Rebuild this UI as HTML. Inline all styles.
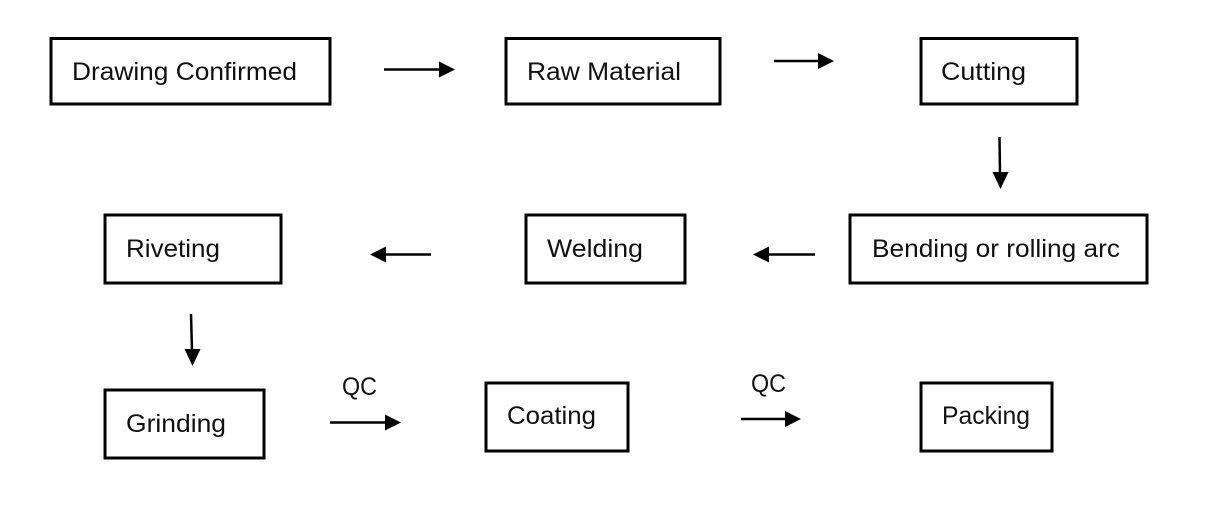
<!DOCTYPE html>
<html>
<head>
<meta charset="utf-8">
<style>
html,body{margin:0;padding:0;background:#fff;width:1218px;height:509px;overflow:hidden}
svg{display:block}
text{font-family:"Liberation Sans",sans-serif;font-size:25px;fill:#111}
rect{fill:#fff;stroke:#000;stroke-width:3}
line{stroke:#000;stroke-width:2.5}
polygon{fill:#000}
</style>
</head>
<body>
<svg width="1218" height="509" viewBox="0 0 1218 509" xmlns="http://www.w3.org/2000/svg">
<rect x="51" y="38.5" width="279" height="65.5"/>
<rect x="506" y="38.5" width="214" height="65.5"/>
<rect x="921" y="38.5" width="156" height="65.5"/>
<rect x="850" y="215" width="297" height="68"/>
<rect x="526" y="215" width="159" height="68"/>
<rect x="105" y="215" width="176" height="68"/>
<rect x="105" y="390" width="159" height="68"/>
<rect x="486" y="383" width="142" height="68"/>
<rect x="921" y="383" width="131" height="68"/>

<text x="72" y="80" textLength="225" lengthAdjust="spacingAndGlyphs">Drawing Confirmed</text>
<text x="527" y="80" textLength="154" lengthAdjust="spacingAndGlyphs">Raw Material</text>
<text x="941" y="80" textLength="85" lengthAdjust="spacingAndGlyphs">Cutting</text>
<text x="872" y="257" textLength="248" lengthAdjust="spacingAndGlyphs">Bending or rolling arc</text>
<text x="547" y="257" textLength="96" lengthAdjust="spacingAndGlyphs">Welding</text>
<text x="126" y="257" textLength="94" lengthAdjust="spacingAndGlyphs">Riveting</text>
<text x="126" y="432" textLength="100" lengthAdjust="spacingAndGlyphs">Grinding</text>
<text x="507" y="424" textLength="89" lengthAdjust="spacingAndGlyphs">Coating</text>
<text x="942" y="424" textLength="88" lengthAdjust="spacingAndGlyphs">Packing</text>
<text x="342" y="395" textLength="35" lengthAdjust="spacingAndGlyphs">QC</text>
<text x="751" y="392" textLength="35" lengthAdjust="spacingAndGlyphs">QC</text>

<line x1="384" y1="69.5" x2="442" y2="69.5"/><polygon points="455,69.5 439,61.5 439,77.5"/>
<line x1="774" y1="61" x2="820" y2="61"/><polygon points="834,61 818,53 818,69"/>
<line x1="999.5" y1="137" x2="1000" y2="174"/><polygon points="1000.5,189 992.5,172 1008.5,172"/>
<line x1="815" y1="254.5" x2="766" y2="254.5"/><polygon points="753,254.5 769,246.5 769,262.5"/>
<line x1="431" y1="254.5" x2="383" y2="254.5"/><polygon points="370,254.5 386,246.5 386,262.5"/>
<line x1="191" y1="314" x2="192" y2="351"/><polygon points="192.5,366 184.5,349 200.5,349"/>
<line x1="330" y1="422.5" x2="388" y2="422.5"/><polygon points="401,422.5 385,414.5 385,430.5"/>
<line x1="741" y1="419" x2="787" y2="419"/><polygon points="801,419 785,411 785,427"/>
</svg>
</body>
</html>
